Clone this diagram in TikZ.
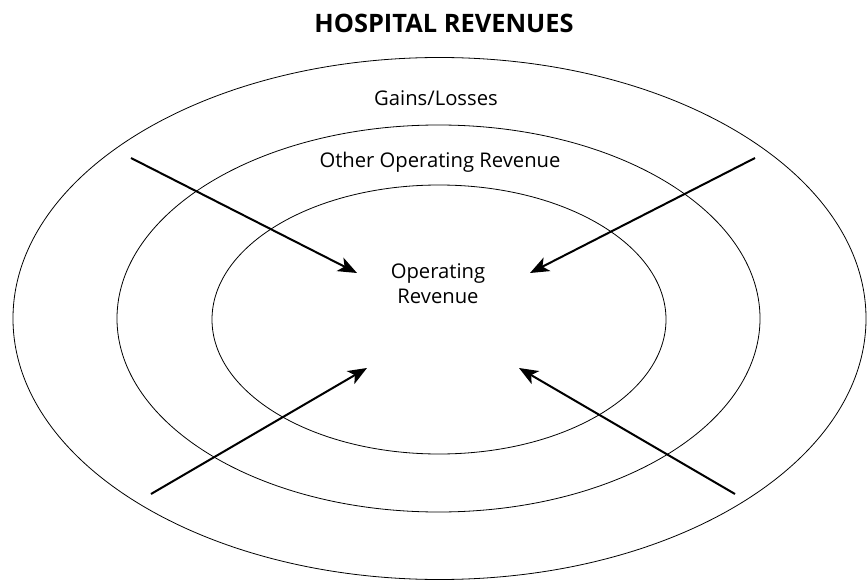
\documentclass[tikz,border=0pt]{standalone}
\usepackage{fontspec}
\setmainfont{Open Sans}
\usetikzlibrary{arrows.meta,shapes.geometric}

\begin{document}
\begin{tikzpicture}[
  x=1bp,y=-1bp,
  ring/.style={draw,ellipse,line width=0.8bp,inner sep=0pt},
  inflow/.style={-{Stealth[length=19bp,width=15bp,inset=5bp]},line width=2bp},
  every node/.style={font=\fontsize{20.3}{25}\selectfont},
]
  \useasboundingbox (0,0) rectangle (867,580);
  \node[font=\bfseries\fontsize{25.5}{30}\selectfont,anchor=base] (title) at (444,33) {HOSPITAL REVENUES};

  % nested rings
  \node[ring,minimum width=853bp,minimum height=522bp] (gains) at (439.5,318.5) {};
  \node[ring,minimum width=643bp,minimum height=387bp] (other) at (438.5,318.5) {};
  \node[ring,minimum width=454bp,minimum height=269bp] (core) at (439,319.5) {};

  \node[anchor=base] (gainslbl) at (436,106) {Gains/Losses};
  \node[anchor=base] (otherlbl) at (440,168) {Other Operating Revenue};
  \node[anchor=base,align=center] (corelbl) at (438,303) {Operating\\Revenue};

  % arrows pointing inward
  \coordinate (tlA) at (131,158);
  \coordinate (tlB) at (357,273);
  \coordinate (trA) at (755,158);
  \coordinate (trB) at (530,273);
  \coordinate (blA) at (151,494);
  \coordinate (blB) at (367,368);
  \coordinate (brA) at (735,494);
  \coordinate (brB) at (519,368);
  \draw[inflow] (tlA) -- (tlB);
  \draw[inflow] (trA) -- (trB);
  \draw[inflow] (blA) -- (blB);
  \draw[inflow] (brA) -- (brB);
\end{tikzpicture}
\end{document}
